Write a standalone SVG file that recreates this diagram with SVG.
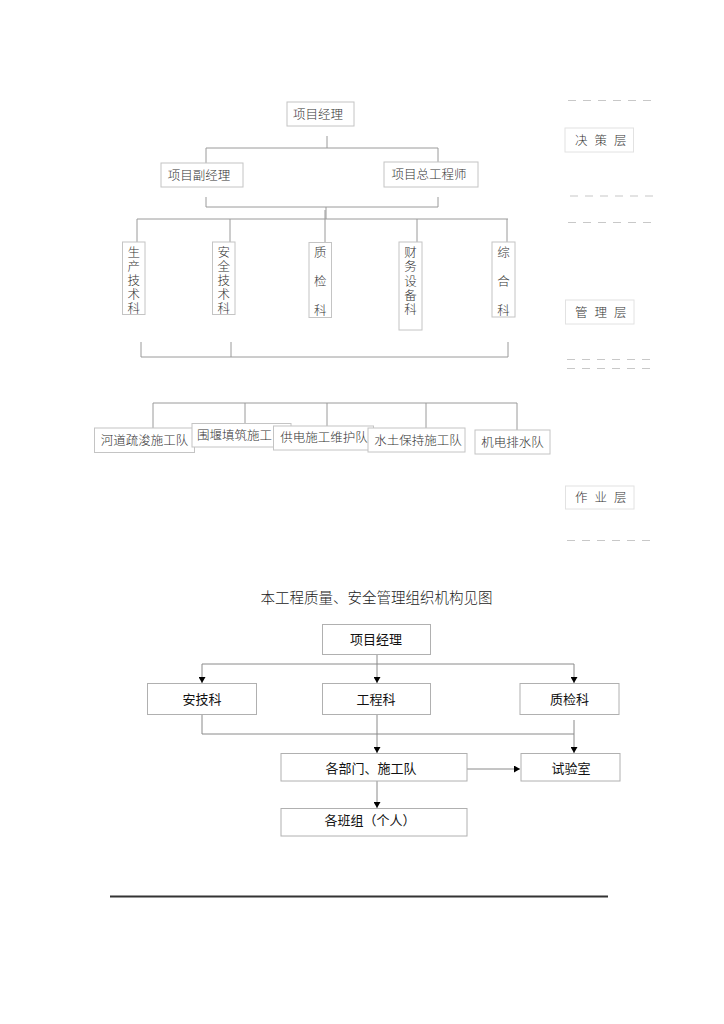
<svg xmlns="http://www.w3.org/2000/svg" width="724" height="1024" viewBox="0 0 724 1024">
<style>
.bx{fill:#fff;stroke:#c4c4c4;stroke-width:1}
.lb{fill:#fff;stroke:#e2e2e2;stroke-width:1}
.ln{fill:none;stroke:#9a9a9a;stroke-width:1}
.ds{fill:none;stroke:#c8c8c8;stroke-width:1.2;stroke-dasharray:8 7}
.t{font-family:"Noto Sans CJK SC","Noto Sans",sans-serif;font-size:12.5px;fill:#333;font-weight:300}
.tc{text-anchor:middle}
.v{writing-mode:vertical-rl;text-anchor:start}
.b2{fill:#fff;stroke:#b0b0b0;stroke-width:1}
.t2{font-family:"Noto Sans CJK SC","Noto Sans",sans-serif;font-size:13px;fill:#111;text-anchor:middle}
.l2{fill:none;stroke:#8a8a8a;stroke-width:1}
</style>
<defs>
<marker id="ah" viewBox="0 0 6 7" refX="6" refY="3.5" markerWidth="6" markerHeight="7" markerUnits="userSpaceOnUse" orient="auto">
<path d="M0,0 L6,3.5 L0,7 Z" fill="#000"/>
</marker>
</defs>
<rect width="724" height="1024" fill="#fff"/>

<g id="connectors">
<path class="ln" d="M327,136 V148 M206,148 H438 M206,148 V163 M438,148 V162"/>
<path class="ln" d="M206,197 V207 H438 V197 M326,207 V219"/>
<path class="ln" d="M137,219 H508 M137,219 V242 M230,219 V242 M325,210 V243 M417,219 V242 M507,219 V242"/>
<path class="ln" d="M141,342 V357 H508 V342 M231,342 V357"/>
<path class="ln" d="M153,403 H517 M153,403 V428 M245,403 V423 M327,403 V426 M426,403 V428 M517,403 V430"/>
<path class="l2" d="M377,654 V664 M202,664 H574 M377,715 V734 M202,715 V734 H574"/>
<path class="l2" marker-end="url(#ah)" d="M202,664 V683"/>
<path class="l2" marker-end="url(#ah)" d="M377,664 V683"/>
<path class="l2" marker-end="url(#ah)" d="M574,664 V683"/>
<path class="l2" marker-end="url(#ah)" d="M377,734 V753"/>
<path class="l2" marker-end="url(#ah)" d="M574,720 V753"/>
<path class="l2" marker-end="url(#ah)" d="M467,769 H520"/>
<path class="l2" marker-end="url(#ah)" d="M377,781 V808"/>
</g>

<g id="layers">
<path class="ds" d="M568,100.5 H655"/>
<path class="ds" d="M570,196 H655"/>
<path class="ds" d="M568,222.5 H655"/>
<path class="ds" d="M567,359.5 H655"/>
<path class="ds" d="M567,368.5 H655"/>
<path class="ds" d="M567,540.5 H655"/>
<g id="l-decision"><rect class="lb" x="565" y="128" width="68.5" height="24"/><text class="t" x="575" y="144.5" letter-spacing="7">决策层</text></g>
<g id="l-manage"><rect class="lb" x="565.5" y="300" width="68.5" height="24"/><text class="t" x="575" y="316.5" letter-spacing="7">管理层</text></g>
<g id="l-work"><rect class="lb" x="565.5" y="486" width="68.5" height="23"/><text class="t" x="575" y="502" letter-spacing="7">作业层</text></g>
</g>

<g id="n-pm"><rect class="bx" x="287" y="102" width="67" height="24"/><text class="t tc" x="318" y="118.5">项目经理</text></g>
<g id="n-dpm"><rect class="bx" x="161" y="163" width="82" height="24"/><text class="t tc" x="199" y="179.5">项目副经理</text></g>
<g id="n-ce"><rect class="bx" x="384" y="162" width="94" height="25"/><text class="t tc" x="429" y="179">项目总工程师</text></g>

<g id="n-sc"><rect class="bx" x="122.5" y="242" width="22.5" height="72.5"/>
<text class="t v" x="133.7" y="245.5" letter-spacing="1.6">生产技术科</text></g>
<g id="n-aq"><rect class="bx" x="212.5" y="242" width="22.5" height="72.5"/>
<text class="t v" x="223.7" y="245.5" letter-spacing="1.6">安全技术科</text></g>
<g id="n-zj"><rect class="bx" x="309" y="242.5" width="22.5" height="75"/>
<text class="t v" x="320.2" y="246" letter-spacing="16.5">质检科</text></g>
<g id="n-cw"><rect class="bx" x="399" y="242" width="23" height="88"/>
<text class="t v" x="410.5" y="246" letter-spacing="1.8">财务设备科</text></g>
<g id="n-zh"><rect class="bx" x="492" y="242" width="23" height="75"/>
<text class="t v" x="503.5" y="246" letter-spacing="16.5">综合科</text></g>

<g id="n-hd"><rect class="bx" x="94.5" y="428" width="100" height="24.5"/><text class="t tc" x="144.5" y="445">河道疏浚施工队</text></g>
<g id="n-wy"><rect class="bx" x="192" y="423.5" width="99" height="23.5"/><text class="t" x="197" y="439.5">围堰填筑施工</text></g>
<g id="n-gd"><rect class="bx" x="273.5" y="426" width="100" height="24"/><text class="t tc" x="324" y="442">供电施工维护队</text></g>
<g id="n-st"><rect class="bx" x="368" y="428" width="97" height="24"/><text class="t tc" x="418" y="444.5">水土保持施工队</text></g>
<g id="n-jd"><rect class="bx" x="475" y="430" width="75" height="24"/><text class="t tc" x="512.5" y="446.5">机电排水队</text></g>

<text id="title" x="376.5" y="603" text-anchor="middle" font-family="Noto Sans CJK SC, sans-serif" font-size="14.5" font-weight="300" fill="#222">本工程质量、安全管理组织机构见图</text>

<g id="m-pm"><rect class="b2" x="322.5" y="624.5" width="108" height="30"/><text class="t2" x="376" y="643.5">项目经理</text></g>
<g id="m-aj"><rect class="b2" x="147.5" y="683.5" width="109" height="31"/><text class="t2" x="202" y="703.5">安技科</text></g>
<g id="m-gc"><rect class="b2" x="322.5" y="683.5" width="108" height="31"/><text class="t2" x="376" y="703.5">工程科</text></g>
<g id="m-zj"><rect class="b2" x="520" y="683.5" width="99" height="31"/><text class="t2" x="569.5" y="703.5">质检科</text></g>
<g id="m-bm"><rect class="b2" x="281" y="753.5" width="186" height="27.5"/><text class="t2" x="371" y="772.5">各部门、施工队</text></g>
<g id="m-sy"><rect class="b2" x="521" y="753.5" width="99" height="27.5"/><text class="t2" x="571" y="772.5">试验室</text></g>
<g id="m-bz"><rect class="b2" x="281" y="808.5" width="186" height="27.5"/><text class="t2" x="370" y="825">各班组（个人）</text></g>

<line x1="110" y1="896.5" x2="608" y2="896.5" stroke="#333" stroke-width="1.8"/>
</svg>
